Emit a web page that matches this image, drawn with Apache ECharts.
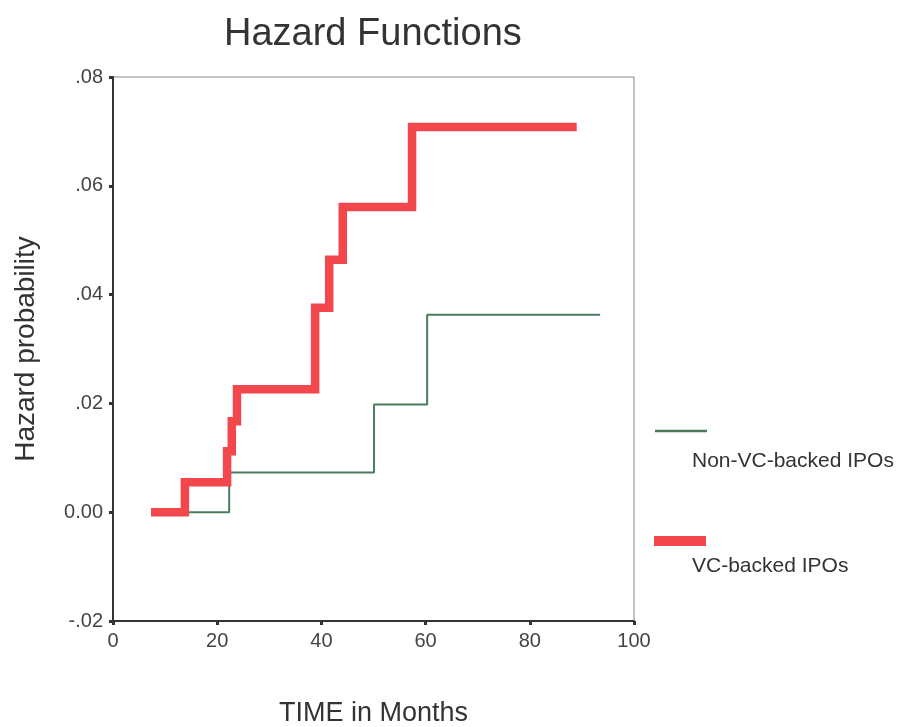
<!DOCTYPE html>
<html>
<head>
<meta charset="utf-8">
<script src="https://cdn.jsdelivr.net/npm/echarts@6/dist/echarts.min.js"></script>
<style>
html,body{margin:0;padding:0;background:#fff;}
#chart{width:900px;height:727px;}
</style>
</head>
<body>
<div id="chart"></div>
<script>
// Data (time in months, hazard probability)
const vcTimes   = [7.3, 13.8, 21.9, 22.8, 23.8, 38.8, 41.5, 44.1, 57.4, 89.0];
const vcHazard  = [0.0, 0.0055, 0.0112, 0.0167, 0.0226, 0.0376, 0.0464, 0.0561, 0.0708, 0.0708];
const nonTimes  = [7.3, 22.3, 50.1, 60.3, 93.5];
const nonHazard = [0.0, 0.0073, 0.0198, 0.0363, 0.0363];
const xTicks = [0, 20, 40, 60, 80, 100];
const yTicks = [-0.02, 0, 0.02, 0.04, 0.06, 0.08];
const seriesNames = ['Non-VC-backed IPOs', 'VC-backed IPOs'];

const FONT = '"Liberation Sans", Arial, sans-serif';
const pairs = (xs, ys) => xs.map((x, i) => [x, ys[i]]);
const fmtY = v => {
  if (Math.abs(v) < 1e-9) return '0.00';
  return (v < 0 ? '-' : '') + Math.abs(v).toFixed(2).replace(/^0/, '');
};

const chart = echarts.init(document.getElementById('chart'), null, {renderer: 'canvas'});
chart.setOption({
  backgroundColor: '#ffffff',
  animation: false,
  title: {
    text: 'Hazard Functions',
    left: 219, top: 11,
    textStyle: {fontFamily: FONT, fontSize: 38, fontWeight: 'normal', color: '#333'}
  },
  grid: {
    left: 113, right: 266, top: 77, bottom: 106,
    containLabel: false, outerBoundsMode: 'none',
    show: true, borderColor: '#888', borderWidth: 1, backgroundColor: 'transparent'
  },
  xAxis: {
    type: 'value',
    min: xTicks[0], max: xTicks[xTicks.length - 1], interval: 20,
    name: 'TIME in Months', nameLocation: 'middle', nameGap: 79,
    nameTextStyle: {fontFamily: FONT, fontSize: 27, color: '#333'},
    axisLine: {show: true, onZero: false, lineStyle: {color: '#333', width: 2}},
    axisTick: {show: true, inside: false, length: 4, lineStyle: {color: '#333', width: 3}},
    axisLabel: {fontFamily: FONT, fontSize: 20, color: '#444', margin: 10},
    splitLine: {show: false}
  },
  yAxis: {
    type: 'value',
    min: yTicks[0], max: yTicks[yTicks.length - 1], interval: 0.02,
    name: 'Hazard probability', nameLocation: 'middle', nameGap: 73, nameRotate: 90,
    nameTextStyle: {fontFamily: FONT, fontSize: 28, color: '#333'},
    axisLine: {show: true, onZero: false, lineStyle: {color: '#333', width: 2}},
    axisTick: {show: true, inside: false, length: 4, lineStyle: {color: '#333', width: 3}},
    axisLabel: {fontFamily: FONT, fontSize: 20, color: '#444', margin: 10, formatter: fmtY},
    splitLine: {show: false}
  },
  series: [
    {
      name: seriesNames[0], type: 'line', step: 'end', symbol: 'none',
      data: pairs(nonTimes, nonHazard),
      lineStyle: {color: '#4b7b5c', width: 2}, z: 2
    },
    {
      name: seriesNames[1], type: 'line', step: 'end', symbol: 'none',
      data: pairs(vcTimes, vcHazard),
      lineStyle: {color: '#f2474d', width: 8.5, cap: 'butt', join: 'miter'}, z: 3
    }
  ],
  graphic: [
    {type: 'line', shape: {x1: 655, y1: 431, x2: 707, y2: 431}, style: {stroke: '#4b7b5c', lineWidth: 2.5}},
    {type: 'text', left: 692, top: 451, style: {text: seriesNames[0], font: '21px ' + FONT, fill: '#333'}},
    {type: 'rect', shape: {x: 654, y: 536, width: 52, height: 10}, style: {fill: '#f2474d'}},
    {type: 'text', left: 692, top: 556, style: {text: seriesNames[1], font: '21px ' + FONT, fill: '#333'}}
  ]
});
</script>
</body>
</html>
